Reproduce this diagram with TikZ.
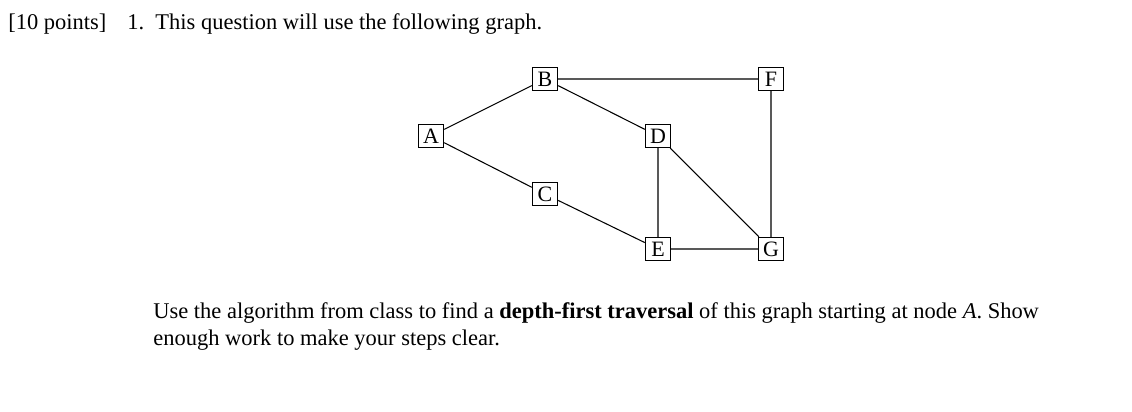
\documentclass[tikz,border=0pt]{standalone}
\usepackage{fontspec}
\setmainfont{Liberation Serif}
\begin{document}
\begin{tikzpicture}[x=0.02cm,y=-0.02cm,
  vbox/.style={draw,thick,minimum width=0.5cm,minimum height=0.46cm,inner sep=0pt,font=\fontsize{12.5}{14}\selectfont},
  txt/.style={anchor=base west,inner sep=0pt,font=\fontsize{12.8}{15.3}\selectfont}]
\useasboundingbox (0,0) rectangle (1132,412);
\node[txt] (h1) at (8,30) {[10 points]};
\node[txt] (h2) at (127,30) {1.\ \ This question will use the following graph.};
\node[vbox] (A) at (431,136) {A};
\node[vbox] (B) at (545,79) {B};
\node[vbox] (C) at (545,194) {C};
\node[vbox] (D) at (658,136) {D};
\node[vbox] (E) at (658,249) {E};
\node[vbox] (F) at (771,79) {F};
\node[vbox] (G) at (771,249) {G};
\draw[semithick] (A)--(B) (A)--(C) (B)--(D) (B)--(F) (C)--(E) (D)--(E) (D)--(G) (E)--(G) (F)--(G);
\node[txt] (p1) at (153,318) {Use the algorithm from class to find a \textbf{depth-first traversal} of this graph starting at node \textit{A}. Show};
\node[txt] (p2) at (153,345) {enough work to make your steps clear.};
\end{tikzpicture}
\end{document}
